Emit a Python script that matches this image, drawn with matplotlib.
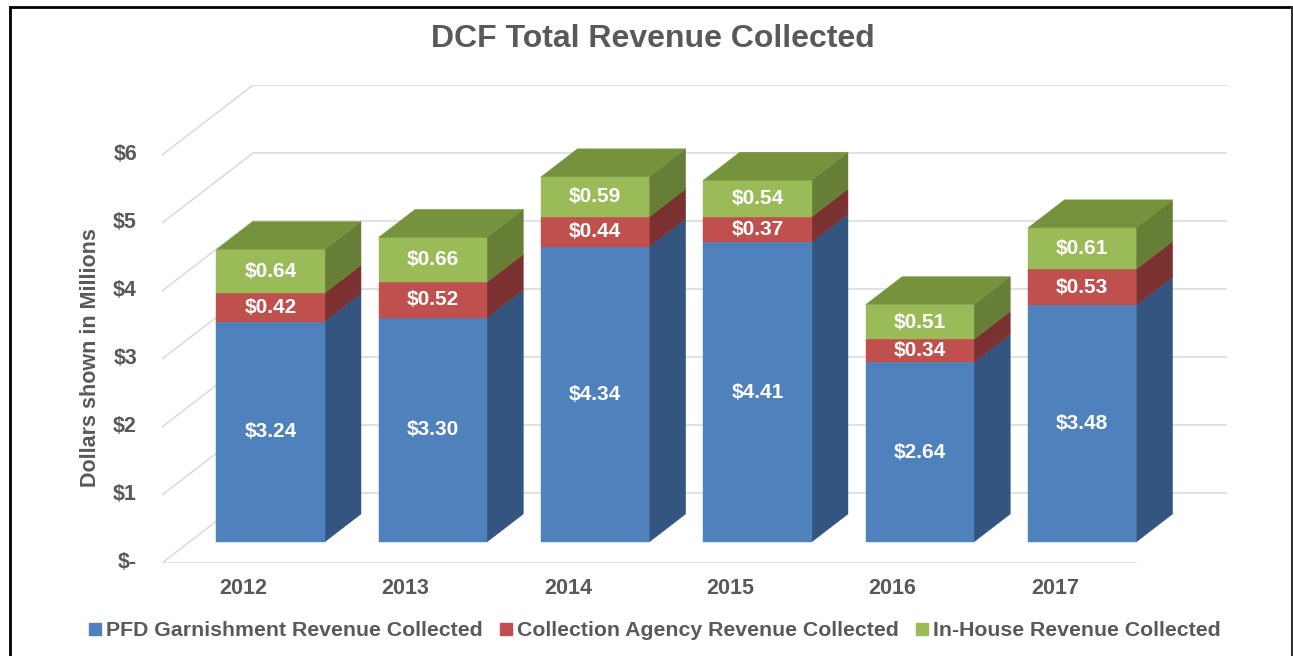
import matplotlib
matplotlib.use("Agg")
import matplotlib.pyplot as plt
from matplotlib.patches import Polygon, Patch
from matplotlib.lines import Line2D

plt.rcParams['font.family'] = ['Liberation Sans', 'DejaVu Sans']

# ---- data ----
years = ["2012", "2013", "2014", "2015", "2016", "2017"]
pfd = [3.24, 3.30, 4.34, 4.41, 2.64, 3.48]
agency = [0.42, 0.52, 0.44, 0.37, 0.34, 0.53]
inhouse = [0.64, 0.66, 0.59, 0.54, 0.51, 0.61]
series_names = ["PFD Garnishment Revenue Collected",
                "Collection Agency Revenue Collected",
                "In-House Revenue Collected"]
yticks = [0, 1, 2, 3, 4, 5, 6]
ytick_labels = ["$-", "$1", "$2", "$3", "$4", "$5", "$6"]
title = "DCF Total Revenue Collected"
ylabel = "Dollars shown in Millions"

# ---- style ----
front_cols = ["#4F81BD", "#C0504D", "#9BBB59"]
side_cols = ["#335580", "#7A312F", "#667E36"]
top_col = "#76923C"
grid_col = "#D9D9D9"
text_col = "#595959"

W, H = 1293, 656
fig = plt.figure(figsize=(W / 100, H / 100), dpi=100)
ax = fig.add_axes([162 / W, (H - 563) / H, (1227 - 162) / W, (563 - 85) / H])

ncat = len(years)
ymax = 6
DX = 91 / 162.2   # depth shift in category units
DY = 70 / 68.0    # depth shift in value units
ax.set_xlim(0, ncat + DX)
ax.set_ylim(0, ymax + DY)
ax.axis("off")


def P(x, v, d):
    return (x + d * DX, v + d * DY)


# gridlines: side wall diagonals + back wall horizontals
for v in yticks:
    a = P(0, v, 0)
    b = P(0, v, 1)
    c = P(ncat, v, 1)
    ax.plot([a[0], b[0], c[0]], [a[1], b[1], c[1]], color=grid_col, lw=1.1,
            zorder=1, solid_joinstyle="miter")
# floor front edge
a = P(0, 0, 0)
b = P(ncat, 0, 0)
ax.plot([a[0], b[0]], [a[1], b[1]], color=grid_col, lw=1.1, zorder=1)

# bars
d0, d1 = 0.3, 0.7
bw = 2 / 3
series = [pfd, agency, inhouse]
for i in range(ncat):
    x0 = i + (1 - bw) / 2
    x1 = x0 + bw
    base = 0.0
    for s, vals in enumerate(series):
        v = vals[i]
        top = base + v
        front = [P(x0, base, d0), P(x1, base, d0), P(x1, top, d0), P(x0, top, d0)]
        side = [P(x1, base, d0), P(x1, base, d1), P(x1, top, d1), P(x1, top, d0)]
        ax.add_patch(Polygon(side, closed=True, facecolor=side_cols[s],
                             edgecolor=side_cols[s], lw=0.3, zorder=3))
        ax.add_patch(Polygon(front, closed=True, facecolor=front_cols[s],
                             edgecolor=front_cols[s], lw=0.3, zorder=4))
        cx, cy = P((x0 + x1) / 2, base + v / 2, d0)
        ax.text(cx, cy, f"${v:.2f}", color="white", fontsize=15,
                fontweight="bold", ha="center", va="center", zorder=6)
        base = top
    topface = [P(x0, base, d0), P(x1, base, d0), P(x1, base, d1), P(x0, base, d1)]
    ax.add_patch(Polygon(topface, closed=True, facecolor=top_col,
                         edgecolor=top_col, lw=0.3, zorder=5))

# y tick labels
for v, lab in zip(yticks, ytick_labels):
    px, py = P(0, v, 0)
    ax.text(px - 25 / 162.2, py, lab, color=text_col, fontsize=15.5,
            fontweight="bold", ha="right", va="center", clip_on=False)

# category labels
for i, yr in enumerate(years):
    px, py = P(i + 0.5, 0, 0)
    ax.text(px, py - 25 / 68.0, yr, color=text_col, fontsize=15.5,
            fontweight="bold", ha="center", va="center", clip_on=False)

# y-axis title
fig.text(90 / W, 1 - 358 / H, ylabel, rotation=90, color=text_col,
         fontsize=15.5, fontweight="bold", ha="center", va="center")

# chart title
fig.text(653 / W, 1 - 39 / H, title, color=text_col, fontsize=23,
         fontweight="bold", ha="center", va="center")

# legend
handles = [Patch(facecolor=c, edgecolor=c) for c in front_cols]
leg = fig.legend(handles, series_names, loc="center", ncol=3,
                 bbox_to_anchor=(655 / W, 1 - 631 / H), frameon=False,
                 fontsize=15.3, handlelength=0.55, handleheight=0.55,
                 handletextpad=0.25, columnspacing=0.8)
for t in leg.get_texts():
    t.set_color(text_col)
    t.set_fontweight("bold")

# outer frame
fig.add_artist(Line2D([10 / W, 10 / W], [0, 1 - 6.5 / H], color="black",
                      lw=2, transform=fig.transFigure))
fig.add_artist(Line2D([10 / W, 1292 / W], [1 - 6.5 / H, 1 - 6.5 / H],
                      color="black", lw=2, transform=fig.transFigure))
fig.add_artist(Line2D([1292 / W, 1292 / W], [0, 1 - 6.5 / H], color="#333333",
                      lw=1.5, transform=fig.transFigure))

fig.savefig("out.png", dpi=100)
